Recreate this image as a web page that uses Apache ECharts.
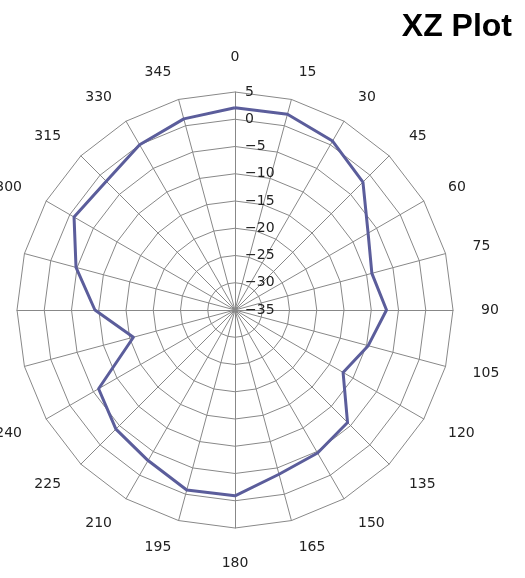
<!DOCTYPE html>
<html>
<head>
<meta charset="utf-8">
<script src="https://cdn.jsdelivr.net/npm/echarts@6/dist/echarts.min.js"></script>
<style>
  html, body { margin: 0; padding: 0; background: #fff; }
  #chart { width: 525px; height: 578px; }
</style>
</head>
<body>
<div id="chart"></div>
<script>
// angle of each spoke (degrees, clockwise from top)
var angles = [0, 15, 30, 45, 60, 75, 90, 105, 120, 135, 150, 165,
              180, 195, 210, 225, 240, 255, 270, 285, 300, 315, 330, 345];
// XZ gain per angle
var gain = [2.1, 2.2, 0.8, -1.8, -6.8, -9.0, -7.2, -9.7, -12.1, -5.8, -4.7, -3.8,
            -0.9, -0.8, -3.1, -4.1, -6.1, -15.7, -9.3, -4.8, -0.9, -1.6, 0.0, 1.3];
var radialMin = -35;
var radialMax = 5;
var radialStep = 5;

// radar runs counter-clockwise, so walk the angles backwards after 0
var order = [0];
for (var i = angles.length - 1; i > 0; i--) order.push(i);

var indicators = order.map(function (idx, k) {
  var ind = {name: String(angles[idx]), min: radialMin, max: radialMax};
  if (k === 0) ind.axisLabel = {show: true};
  return ind;
});
var values = order.map(function (idx) { return gain[idx]; });

var chart = echarts.init(document.getElementById('chart'));
chart.setOption({
  animation: false,
  title: {
    text: 'XZ Plot',
    right: 8,
    top: 6,
    textStyle: {fontFamily: 'Liberation Sans', fontWeight: 'bold', fontSize: 32, color: '#000'}
  },
  radar: {
    center: [235, 310],
    radius: 218,
    startAngle: 90,
    shape: 'polygon',
    splitNumber: (radialMax - radialMin) / radialStep,
    indicator: indicators,
    nameGap: 28,
    axisName: {color: '#222', fontFamily: 'DejaVu Sans', fontSize: 14},
    axisLine: {lineStyle: {color: '#888', width: 1}},
    splitLine: {lineStyle: {color: '#888', width: 1}},
    splitArea: {show: false},
    axisTick: {show: false},
    axisLabel: {
      show: false,
      color: '#222',
      fontFamily: 'DejaVu Sans',
      fontSize: 14,
      margin: -10,
      align: 'left',
      formatter: function (v) { return String(v).replace('-', '\u2212'); }
    }
  },
  series: [{
    type: 'radar',
    symbol: 'none',
    lineStyle: {color: '#5b5d9b', width: 3},
    data: [{value: values}]
  }]
});
</script>
</body>
</html>
